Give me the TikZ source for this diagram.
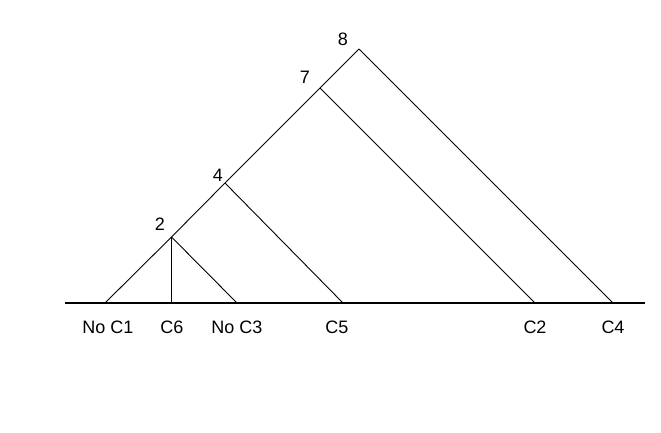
\documentclass[tikz,border=0pt]{standalone}
\usepackage{fontspec}
\setmainfont{Liberation Sans}
\usetikzlibrary{positioning}

\begin{document}
\begin{tikzpicture}[x=1pt,y=-1pt,font=\fontsize{18}{21}\selectfont]
    \tikzset{branch/.style={draw,line width=0.9pt},
      taxon/.style={inner sep=0pt,anchor=base},
      clade/.style={inner sep=0pt,anchor=base}}
    \useasboundingbox (0,0) rectangle (661,432);
    % baseline
    \coordinate (bl) at (65,303);
    \coordinate (br) at (645,303);
    \draw[line width=1.6pt] (bl) -- (br);
    % leaves
    \coordinate (t1) at (105,303);
    \coordinate (t6) at (171.5,303);
    \coordinate (t3) at (237,303);
    \coordinate (t5) at (343,303);
    \coordinate (t2) at (535,303);
    \coordinate (t4) at (613,303);
    % inner nodes
    \coordinate (n2) at (171.5,237);
    \coordinate (n4) at (225,183);
    \coordinate (n7) at (320,88);
    \coordinate (n8) at (359,49);
    \path[branch]
    (t1) -- (n2) -- (n4) -- (n7) -- (n8)
    (n2) -- (t3)
    (n4) -- (t5)
    (n7) -- (t2)
    (n8) -- (t4)
    ;
    \draw[line width=1.6pt] (n2) -- (t6);
    \node[clade] (c2) at (160,230) {2};
    \node[clade] (c4) at (218,181) {4};
    \node[clade] (c7) at (305,83) {7};
    \node[clade] (c8) at (343,45) {8};
    \node[taxon] (x1) at (108,333) {No C1};
    \node[taxon] (x6) at (172,333) {C6};
    \node[taxon] (x3) at (237,333) {No C3};
    \node[taxon] (x5) at (337,333) {C5};
    \node[taxon] (x2) at (535,333) {C2};
    \node[taxon] (x4) at (613,333) {C4};
\end{tikzpicture}
\end{document}
